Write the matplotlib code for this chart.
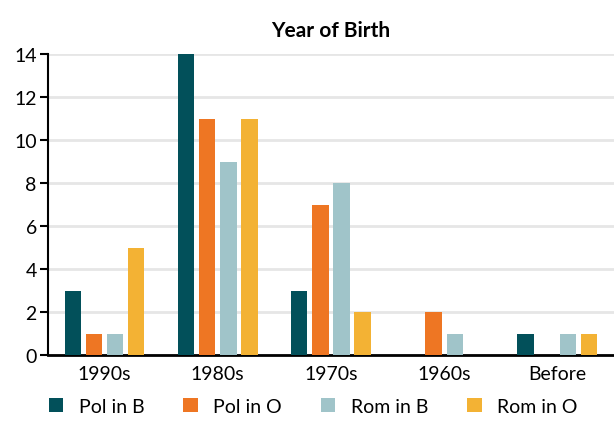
import numpy as np
import matplotlib
matplotlib.use("Agg")
import matplotlib.pyplot as plt

plt.rcParams["font.family"] = ["Lato", "DejaVu Sans"]

categories = ["1990s", "1980s", "1970s", "1960s", "Before"]
series_names = ["Pol in B", "Pol in O", "Rom in B", "Rom in O"]
pol_in_b = [3, 14, 3, 0, 1]
pol_in_o = [1, 11, 7, 2, 0]
rom_in_b = [1, 9, 8, 1, 1]
rom_in_o = [5, 11, 2, 0, 1]
colors = ["#02505A", "#EE7623", "#A0C4C9", "#F3B234"]

fig = plt.figure(figsize=(6.14, 4.31), dpi=100)
ax = fig.add_axes([0.078, 0.174, 0.922, 0.698])

x = np.arange(len(categories))
width = 0.145
step = 0.187
offsets = (np.arange(4) - 1.5) * step
for vals, off, col, name in zip([pol_in_b, pol_in_o, rom_in_b, rom_in_o], offsets, colors, series_names):
    ax.bar(x + off, vals, width=width, color=col, label=name, zorder=3)

ax.set_xlim(-0.5, 4.5)
ax.set_ylim(0, 14)
ax.set_yticks(range(0, 15, 2))
ax.set_xticks(x)
ax.set_xticklabels(categories)
ax.grid(True, axis="y", color="#E6E6E6", linewidth=2, zorder=0)
for side in ["top", "right"]:
    ax.spines[side].set_visible(False)
ax.spines["left"].set_linewidth(1.5)
ax.spines["bottom"].set_linewidth(2)
ax.tick_params(axis="y", length=6, width=1.5, labelsize=14, pad=2)
ax.tick_params(axis="x", length=0, labelsize=14, pad=7)

ax.set_title("Year of Birth", fontsize=15, fontweight="bold", pad=13)

fig.legend(loc="lower center", bbox_to_anchor=(0.51, -0.005), ncol=4, frameon=False,
           fontsize=14, handlelength=0.75, handleheight=0.75, columnspacing=2.0,
           handletextpad=0.8)

fig.savefig("out.png", dpi=100)
